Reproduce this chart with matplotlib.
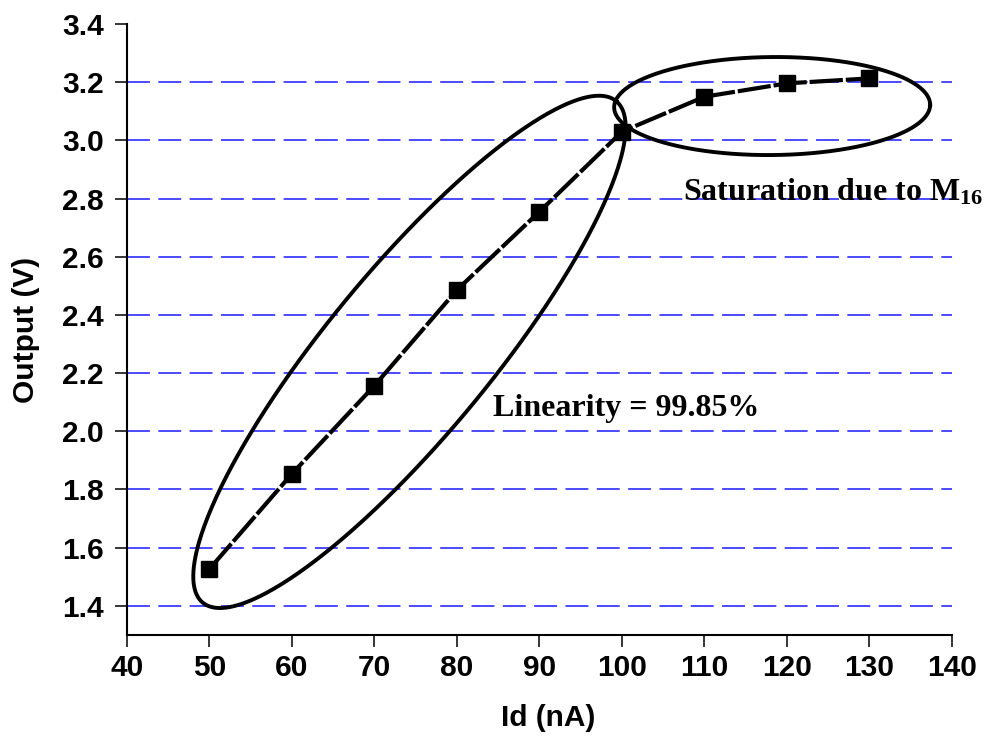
import numpy as np
import matplotlib
matplotlib.use("Agg")
import matplotlib.pyplot as plt

# measured output voltage vs drain current
id_na = [50, 60, 70, 80, 90, 100, 110, 120, 130]
v_out = [1.527, 1.854, 2.157, 2.486, 2.755, 3.030, 3.150, 3.196, 3.213]

x_ticks = [40, 50, 60, 70, 80, 90, 100, 110, 120, 130, 140]
y_ticks = [1.4, 1.6, 1.8, 2.0, 2.2, 2.4, 2.6, 2.8, 3.0, 3.2, 3.4]

plt.rcParams['mathtext.fontset'] = 'custom'
plt.rcParams['mathtext.rm'] = 'Liberation Serif:bold'
plt.rcParams['mathtext.it'] = 'Liberation Serif:bold'


def ellipse_xy(ax, cx, cy, a_px, b_px, ang, n=400):
    # ellipse sized in pixels, placed in data coordinates
    sx = ax.bbox.width / (ax.get_xlim()[1] - ax.get_xlim()[0])
    sy = ax.bbox.height / (ax.get_ylim()[1] - ax.get_ylim()[0])
    t = np.linspace(0, 2 * np.pi, n)
    th = np.deg2rad(ang)
    dx = a_px * np.cos(t) * np.cos(th) - b_px * np.sin(t) * np.sin(th)
    dy = a_px * np.cos(t) * np.sin(th) + b_px * np.sin(t) * np.cos(th)
    return cx + dx / sx, cy + dy / sy


fig = plt.figure(figsize=(9.85, 7.45), dpi=100)
ax = fig.add_axes([0.1289, 0.1477, 0.8376, 0.8201])
ax.set_xlim(40, 140)
ax.set_ylim(1.3, 3.4)

ax.plot(id_na, v_out, color='black', lw=3, ls=(0, (8, 0.7)),
        marker='s', ms=12, mfc='black', mec='black', zorder=3)

ax.set_xticks(x_ticks)
ax.set_yticks(y_ticks)
ax.set_yticklabels([f'{v:.1f}' for v in y_ticks])
ax.tick_params(direction='out', length=8.3, width=1.1, labelsize=21.5)
ax.tick_params(axis='x', pad=5.5)
ax.tick_params(axis='y', pad=8.5)
for lab in ax.get_xticklabels() + ax.get_yticklabels():
    lab.set_fontfamily('Liberation Sans')
    lab.set_fontweight('bold')

ax.yaxis.grid(True, color='#1a1aff', lw=1.1, dashes=(15, 5.5))
ax.get_ygridlines()[-1].set_visible(False)
ax.set_axisbelow(True)

for s in ['top', 'right']:
    ax.spines[s].set_visible(False)
for s in ['left', 'bottom']:
    ax.spines[s].set_linewidth(1.5)

ax.set_xlabel('Id (nA)', fontsize=21.5, fontweight='bold',
              fontfamily='Liberation Sans', labelpad=16)
ax.xaxis.label.set_x(0.51)
ax.set_ylabel('Output (V)', fontsize=21.5, fontweight='bold',
              fontfamily='Liberation Sans', labelpad=16)

# ellipses around the linear and saturated regions
ex, ey = ellipse_xy(ax, 74.24, 2.273, 325, 82, 50.5)
ax.plot(ex, ey, color='black', lw=2.8, zorder=4)
ex, ey = ellipse_xy(ax, 118.2, 3.118, 158, 49, 0.5)
ax.plot(ex, ey, color='black', lw=2.8, zorder=4, clip_on=False)

ax.text(84.4, 2.054, 'Linearity = 99.85%', fontsize=23, fontweight='bold',
        fontfamily='Liberation Serif', va='baseline', ha='left')
ax.text(107.4, 2.795, r'Saturation due to M$_{16}$', fontsize=23,
        fontweight='bold', fontfamily='Liberation Serif', va='baseline',
        ha='left', clip_on=False)

fig.savefig('out.png', dpi=100)
